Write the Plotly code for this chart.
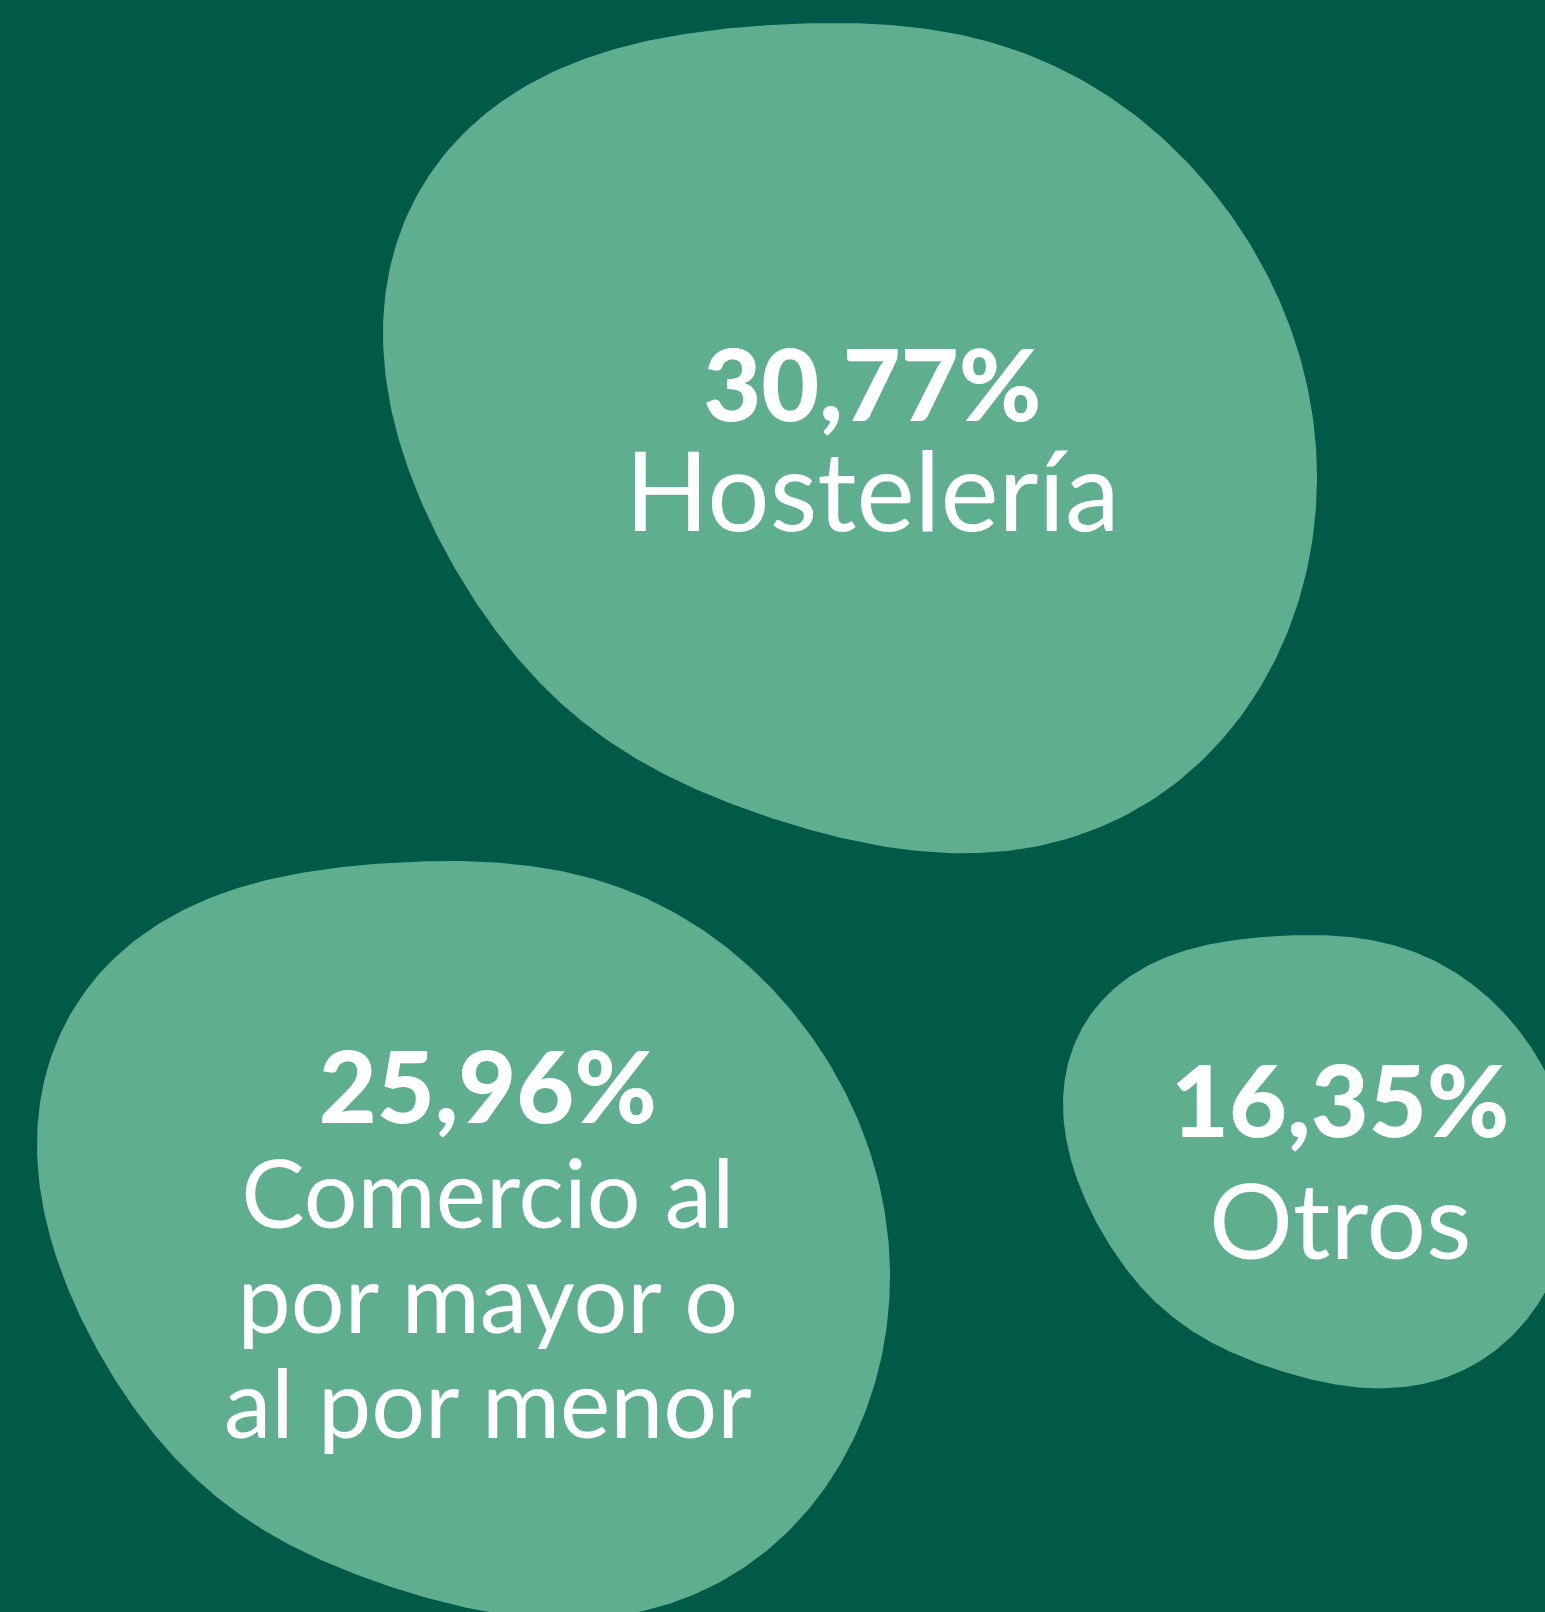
import numpy as np
import plotly.graph_objects as go

# ---- data ----
categories = ["Hostelería", "Comercio al por mayor o al por menor", "Otros"]
values = [30.77, 25.96, 16.35]
label_lines = [["Hostelería"], ["Comercio al", "por mayor o", "al por menor"], ["Otros"]]

# ---- layout / style constants ----
W, H = 1545, 1612
BG = "#015A47"
BLOB = "#5FAE8F"
FONT = "Lato"
blob_x0 = [383, 37, 1063]
blob_y0 = [23, 861, 935]
blob_w = [934, 853, 510]
ASPECT = 0.889
text_x = [872, 488, 1340]
pct_baseline = [420, 1122, 1136]     # baseline of the percentage line
line_step = [110, 105, 122]          # distance between consecutive baselines
label_size = [110, 95, 105]
pct_size = 100
ASCENT = 0.987                       # Lato ascent in em
LINE_SPACING = 1.3                   # plotly's line spacing in em
HARMONICS = 5

# normalised blob outline guide points (u to the right, v downward)
blob_template = [
    (0.495, 0.000), (0.543, 0.002), (0.615, 0.012), (0.685, 0.036),
    (0.757, 0.077), (0.829, 0.133), (0.899, 0.222), (0.953, 0.318),
    (0.985, 0.398), (0.998, 0.478), (1.000, 0.559), (0.996, 0.623),
    (0.982, 0.695), (0.955, 0.767), (0.918, 0.840), (0.864, 0.912),
    (0.789, 0.966), (0.703, 0.994), (0.596, 1.000), (0.543, 0.996),
    (0.414, 0.969), (0.289, 0.904), (0.193, 0.824), (0.125, 0.743),
    (0.069, 0.663), (0.032, 0.583), (0.013, 0.502), (0.002, 0.382),
    (0.006, 0.283), (0.035, 0.195), (0.096, 0.114), (0.184, 0.057),
    (0.305, 0.019), (0.405, 0.004),
]


def smooth_blob(pts, aspect, k=5, n=480):
    P = np.array(pts, dtype=float)
    P[:, 1] *= aspect
    c = np.array([0.5, 0.5 * aspect])
    d = P - c
    th = np.arctan2(d[:, 1], d[:, 0])
    r = np.hypot(d[:, 0], d[:, 1])

    def design(t):
        cols = [np.ones_like(t)]
        for j in range(1, k + 1):
            cols += [np.cos(j * t), np.sin(j * t)]
        return np.column_stack(cols)

    coef, *_ = np.linalg.lstsq(design(th), r, rcond=None)
    t = np.linspace(-np.pi, np.pi, n)
    rr = design(t) @ coef
    x = c[0] + rr * np.cos(t)
    y = c[1] + rr * np.sin(t)
    x = (x - x.min()) / (x.max() - x.min())
    y = (y - y.min()) / (y.max() - y.min())
    return x, y


ou, ov = smooth_blob(blob_template, ASPECT, HARMONICS)

fig = go.Figure()
for i, cat in enumerate(categories):
    w = blob_w[i]
    h = w * ASPECT
    fig.add_trace(go.Scatter(
        x=blob_x0[i] + ou * w, y=blob_y0[i] + ov * h,
        mode="lines", fill="toself", fillcolor=BLOB,
        line=dict(width=0, color=BLOB), hoverinfo="skip", showlegend=False,
        name=cat,
    ))

annotations = []
for i, v in enumerate(values):
    pct = f"{v:.2f}".replace(".", ",") + "%"
    parts = [f'<span style="font-size:{pct_size}px;font-weight:900">{pct}</span>']
    for line in label_lines[i]:
        parts.append(f'<span style="font-size:{label_size[i]}px;font-weight:400">{line}</span>')
    base_size = line_step[i] / LINE_SPACING
    annotations.append(dict(
        x=text_x[i], y=pct_baseline[i] - ASCENT * pct_size, xref="x", yref="y",
        text="<br>".join(parts), showarrow=False, xanchor="center", yanchor="top",
        align="center", borderpad=0,
        font=dict(family=FONT, size=base_size, color="white"),
    ))

fig.update_layout(
    width=W, height=H,
    margin=dict(l=0, r=0, t=0, b=0),
    paper_bgcolor=BG, plot_bgcolor=BG,
    xaxis=dict(range=[0, W], visible=False, fixedrange=True),
    yaxis=dict(range=[H, 0], visible=False, fixedrange=True),
    annotations=annotations,
    showlegend=False,
)

fig.write_html(
    "out.html",
    config={"displayModeBar": False},
    post_script="document.body.style.margin='0';document.body.style.overflow='hidden';",
)
